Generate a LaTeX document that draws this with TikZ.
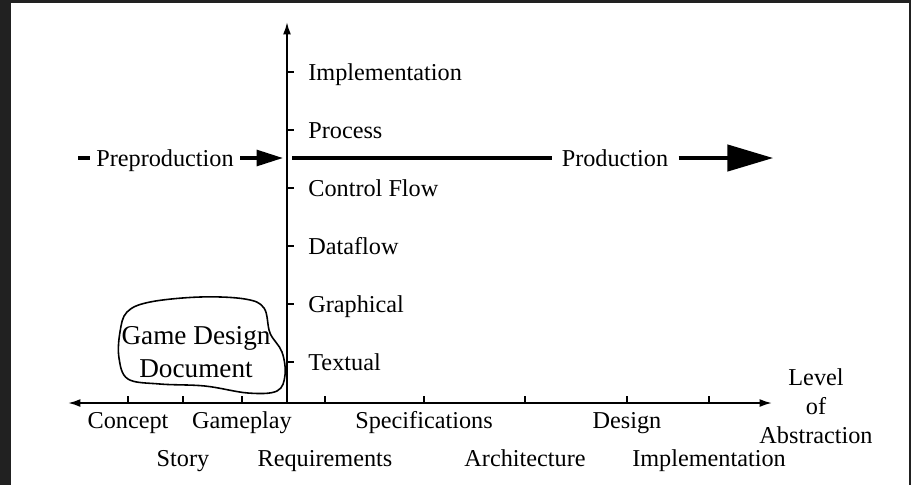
\documentclass[tikz,border=0pt]{standalone}
\usepackage{fontspec}
\setmainfont{Liberation Serif}
\usetikzlibrary{arrows.meta,calc,positioning}

\begin{document}
\begin{tikzpicture}[x=0.02cm,y={(0cm,-0.02cm)}]
    \tikzstyle{lbl}=[inner sep=0pt, text height=9.5pt, text depth=3pt,
      font=\fontsize{13.8}{16.5}\selectfont]
    \tikzstyle{axis}=[line width=1.1pt]
    \tikzstyle{phase}=[line width=1.9pt]

    % frame
    \fill[black!87] (0,0) rectangle (911,485);
    \fill[white] (11,3) rectangle (909,485);

    % axes
    \coordinate (o) at (287,403);
    \coordinate (top) at (287,22);
    \coordinate (left) at (68,403);
    \coordinate (right) at (772,403);
    \draw[axis,-{Latex[length=7pt,width=4.5pt]}] (o) -- (top);
    \draw[axis,{Latex[length=7pt,width=4.5pt]}-{Latex[length=7pt,width=4.5pt]}] (left) -- (right);

    % notations
    \foreach \name/\txt [count=\i] in {impl/Implementation, proc/Process,
        ctrl/Control Flow, data/Dataflow, graph/Graphical, text/Textual}{
      \draw[axis] (287,14+58*\i) -- (294,14+58*\i);
      \node[lbl, anchor=west] (\name) at (308,17+58*\i) {\txt};
    }

    % activities
    \foreach \name/\x/\y/\txt in {con/128/423/Concept, sto/183/461/Story,
        gam/242/423/Gameplay, req/325/461/Requirements,
        spe/424/423/Specifications, arc/525/461/Architecture,
        des/627/423/Design, imp/709/461/Implementation}{
      \draw[axis] (\x,403) -- (\x,396);
      \node[lbl] (\name) at (\x,\y) {\txt};
    }
    \node[inner sep=0pt, align=center, font=\fontsize{13.8}{16.5}\selectfont]
      (loa) at (816,406) {Level\\of\\Abstraction};

    % phases
    \node[lbl] (pre) at (165,161) {Preproduction};
    \node[lbl] (prod) at (615,161) {Production};
    \coordinate (pres) at (78,158);
    \coordinate (pree) at (283,158);
    \coordinate (prods) at (292,158);
    \coordinate (prode) at (773,158);
    \draw[phase] (pres) -- (pres -| {$(pre.west)+(-6,0)$});
    \draw[phase,-{Triangle[length=15pt,width=9pt]}] (pree -| {$(pre.east)+(6,0)$}) -- (pree);
    \draw[phase] (prods) -- (prods -| {$(prod.west)+(-9,0)$});
    \draw[phase,-{Triangle[length=26pt,width=15pt]}] (prode -| {$(prod.east)+(10,0)$}) -- (prode);

    % game design document
    \draw[line width=0.9pt] plot[smooth cycle, tension=0.6] coordinates {
      (120,332) (127,312) (150,302) (200,297) (245,299) (264,308) (270,333)
      (282,352) (285,375) (277,391) (248,393) (205,386) (160,384) (128,379)
      (119,358)};
    \node[inner sep=0pt, align=center, font=\fontsize{15.5}{18.8}\selectfont]
      (gdd) at (196,352) {Game Design\\Document};

\end{tikzpicture}
\end{document}
